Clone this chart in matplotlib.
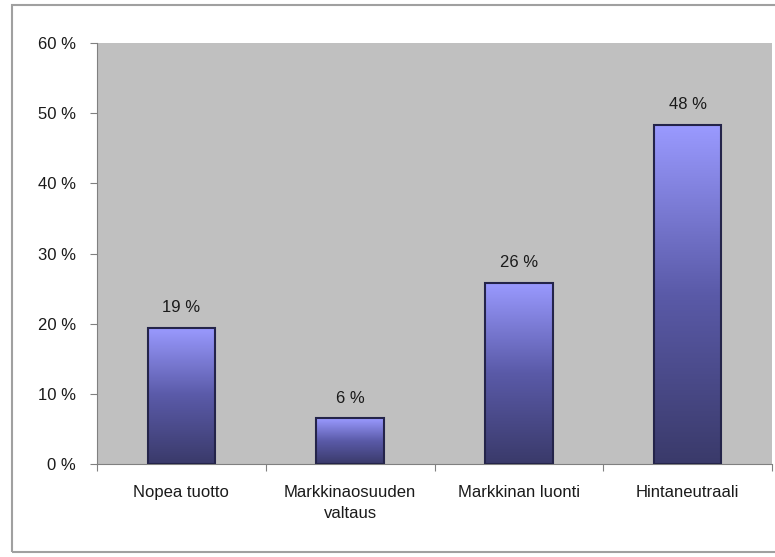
import numpy as np
import matplotlib.pyplot as plt
from matplotlib.colors import LinearSegmentedColormap
from matplotlib.patches import Rectangle

categories = ["Nopea tuotto", "Markkinaosuuden\nvaltaus", "Markkinan luonti", "Hintaneutraali"]
values = [19.4, 6.5, 25.8, 48.3]
labels = ["19 %", "6 %", "26 %", "48 %"]

plt.rcParams["font.family"] = ["Liberation Sans", "DejaVu Sans"]
fs = 12

fig = plt.figure(figsize=(7.75, 5.57), dpi=100)
# outer chart border
fig.patches.append(Rectangle((12 / 775, 5 / 557), 1.0, 547 / 557, transform=fig.transFigure,
                             fill=False, edgecolor="#a0a0a0", linewidth=1.5))

ax = fig.add_axes([97 / 775, (557 - 464) / 557, 675 / 775, 421 / 557])
ax.set_facecolor("#c0c0c0")

grad = LinearSegmentedColormap.from_list("bar", ["#3a3a6a", "#5a5aa8", "#9a9aff"])
x = np.arange(len(categories))
width = 0.40
bars = ax.bar(x, values, width=width, color="none", edgecolor="#24244a", linewidth=1.5, zorder=3)
for b in bars:
    x0, y0 = b.get_x(), b.get_y()
    h = b.get_height()
    img = ax.imshow(np.linspace(0, 1, 256).reshape(-1, 1), cmap=grad, origin="lower",
                    extent=[x0, x0 + b.get_width(), y0, y0 + h], aspect="auto", zorder=2)
    img.set_clip_path(b)

for xi, v, lab in zip(x, values, labels):
    ax.text(xi, v + 1.8, lab, ha="center", va="bottom", fontsize=fs, color="#1a1a1a")

ax.set_xlim(-0.5, 3.5)
ax.set_ylim(0, 60)
ax.set_yticks(range(0, 61, 10))
ax.set_yticklabels([f"{t} %" for t in range(0, 61, 10)], fontsize=fs, color="#1a1a1a")
ax.set_xticks(np.arange(-0.5, 4, 1.0))
ax.set_xticklabels([])
ax.set_xticks(x, minor=True)
ax.set_xticklabels(categories, minor=True, fontsize=fs, color="#1a1a1a", linespacing=1.5)
ax.tick_params(axis="x", which="minor", length=0, pad=15)
ax.tick_params(axis="x", which="major", length=5, color="#808080", direction="out")
ax.tick_params(axis="y", length=5, color="#808080", direction="out", pad=10)

for s in ["top", "right"]:
    ax.spines[s].set_visible(False)
for s in ["left", "bottom"]:
    ax.spines[s].set_color("#808080")

fig.savefig("out.png", dpi=100)
